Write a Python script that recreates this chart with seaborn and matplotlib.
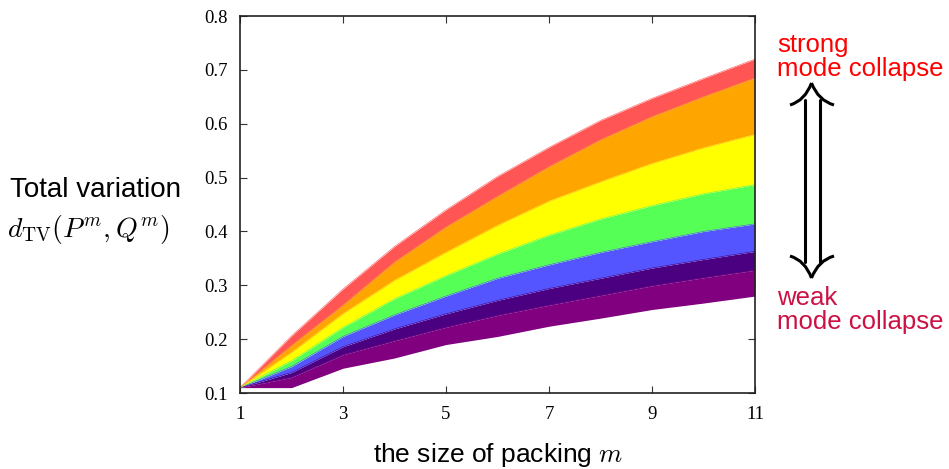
import numpy as np
import pandas as pd
import matplotlib
matplotlib.use("Agg")
import matplotlib.pyplot as plt
import seaborn as sns
from matplotlib.path import Path
from matplotlib.patches import PathPatch

# === Data (band boundaries, bottom to top) ===
packing = [1, 2, 3, 4, 5, 6, 7, 8, 9, 10, 11]
purple_low = [0.110, 0.110, 0.146, 0.165, 0.190, 0.205, 0.224, 0.239, 0.255, 0.267, 0.280]
indigo_low = [0.110, 0.129, 0.171, 0.197, 0.222, 0.244, 0.263, 0.281, 0.299, 0.314, 0.328]
blue_low = [0.110, 0.138, 0.186, 0.219, 0.247, 0.272, 0.294, 0.313, 0.332, 0.348, 0.363]
green_low = [0.110, 0.149, 0.205, 0.245, 0.280, 0.313, 0.338, 0.361, 0.381, 0.400, 0.414]
yellow_low = [0.110, 0.160, 0.222, 0.275, 0.318, 0.358, 0.393, 0.423, 0.448, 0.470, 0.487]
orange_low = [0.110, 0.175, 0.247, 0.309, 0.361, 0.411, 0.456, 0.492, 0.526, 0.555, 0.580]
red_low = [0.110, 0.188, 0.263, 0.343, 0.408, 0.465, 0.520, 0.570, 0.613, 0.650, 0.685]
red_high = [0.110, 0.206, 0.293, 0.372, 0.440, 0.502, 0.556, 0.606, 0.647, 0.684, 0.720]

bounds = [purple_low, indigo_low, blue_low, green_low, yellow_low, orange_low, red_low, red_high]
band_colors = ["#800080", "#4b0082", "#5555ff", "#55ff55", "#ffff00", "#ffa500", "#ff5555"]

x_ticks = [1, 3, 5, 7, 9, 11]
y_ticks = [0.1, 0.2, 0.3, 0.4, 0.5, 0.6, 0.7, 0.8]

df = pd.DataFrame({"m": packing})
for i, b in enumerate(bounds):
    df[f"b{i}"] = b

# === Style ===
sns.set_theme(style="white")
plt.rcParams["font.family"] = ["Liberation Sans", "DejaVu Sans"]
plt.rcParams["mathtext.fontset"] = "cm"
plt.rcParams["text.color"] = "black"

W, H = 949, 469
fig = plt.figure(figsize=(W / 100, H / 100), dpi=100)
ax = fig.add_axes([240 / W, 1 - 393 / H, (755 - 240) / W, (393 - 16) / H])

for i, col in enumerate(band_colors):
    ax.fill_between(df["m"], df[f"b{i}"], df[f"b{i+1}"], color=col, linewidth=0)
    sns.lineplot(data=df, x="m", y=f"b{i+1}", color=col, linewidth=0.4, ax=ax)

ax.set_xlim(1, 11)
ax.set_ylim(0.1, 0.8)
ax.set_xticks(x_ticks)
ax.set_yticks(y_ticks)
ax.set_xticklabels([str(t) for t in x_ticks], family="Liberation Serif", fontsize=13.5)
ax.set_yticklabels([f"{t:.1f}" for t in y_ticks], family="Liberation Serif", fontsize=13.5)
ax.tick_params(direction="in", bottom=True, left=True, top=True, right=True,
               length=5, width=0.8, color="#333333", labelcolor="black", pad=9)
ax.set_xlabel("")
ax.set_ylabel("")
for s in ax.spines.values():
    s.set_visible(True)
    s.set_color("#222222")
    s.set_linewidth(1.2)

# axis labels
fig.text(498 / W, 1 - 455 / H, "the size of packing $m$", ha="center", va="center", fontsize=19)
fig.text(96 / W, 1 - 190 / H, "Total variation", ha="center", va="center", fontsize=20)
fig.text(88 / W, 1 - 229 / H, r"$d_{\mathrm{TV}}(P^m,Q^m)$", ha="center", va="center", fontsize=20)

# right-hand annotation
fig.text(777 / W, 1 - 57 / H, "strong\nmode collapse", ha="left", va="center",
         fontsize=18.5, color="#ff0000", linespacing=0.95)
fig.text(777 / W, 1 - 310 / H, "weak\nmode collapse", ha="left", va="center",
         fontsize=18.5, color="#cc1144", linespacing=0.95)

def fpt(x, y):
    return (x / W, 1 - y / H)

lw = 2.2
for xs in (805, 820):
    fig.add_artist(plt.Line2D(*zip(fpt(xs, 100), fpt(xs, 262)), transform=fig.transFigure,
                              color="black", linewidth=lw))
for apex, wing_y in ((83, 105), (278, 256)):
    for wx in (790, 834):
        verts = [fpt(811.5, apex), fpt(811.5 + (wx - 811.5) * 0.3, wing_y - (wing_y - apex) * 0.2),
                 fpt(wx, wing_y)]
        p = Path(verts, [Path.MOVETO, Path.CURVE3, Path.CURVE3])
        fig.add_artist(PathPatch(p, transform=fig.transFigure, fill=False,
                                 edgecolor="black", linewidth=lw))

fig.savefig("out.png", dpi=100)
